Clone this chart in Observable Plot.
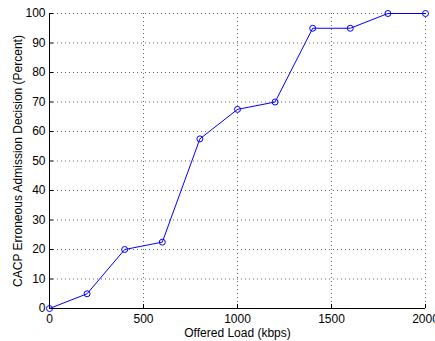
<!DOCTYPE html>
<html>
<head>
<meta charset="utf-8">
<script src="https://cdn.jsdelivr.net/npm/d3@7"></script>
<script src="https://cdn.jsdelivr.net/npm/@observablehq/plot@0.6"></script>
<style>
html,body{margin:0;padding:0;background:#fff;}
svg{display:block;}
</style>
</head>
<body>
<div id="chart"></div>
<script>
const offeredLoad = [0, 200, 400, 600, 800, 1000, 1200, 1400, 1600, 1800, 2000];
const erroneousPct = [0, 5, 20, 22.5, 57.5, 67.5, 70, 95, 95, 100, 100];
const xTicks = [0, 500, 1000, 1500, 2000];
const yTicks = [0, 10, 20, 30, 40, 50, 60, 70, 80, 90, 100];

const data = offeredLoad.map((x, i) => ({x, y: erroneousPct[i]}));
const font = "Liberation Sans, Arial, Helvetica, sans-serif";

const chart = Plot.plot({
  width: 435,
  height: 341,
  marginLeft: 49,
  marginRight: 10,
  marginTop: 13,
  marginBottom: 33,
  style: {fontFamily: font, fontSize: "12px", color: "#000", background: "#fff"},
  x: {domain: [0, 2000]},
  y: {domain: [0, 100]},
  marks: [
    Plot.gridX(xTicks.filter(d => d > 0), {stroke: "#666", strokeOpacity: 1, strokeDasharray: "1,3"}),
    Plot.gridY(yTicks.filter(d => d > 0), {stroke: "#666", strokeOpacity: 1, strokeDasharray: "1,3"}),
    Plot.axisX(xTicks, {tickSize: -4, tickPadding: 10, tickFormat: d => String(d), label: "Offered Load (kbps)", labelAnchor: "center", labelArrow: "none", labelOffset: 28, fontSize: 12}),
    Plot.axisY(yTicks, {tickSize: -4, tickPadding: 8, tickFormat: d => String(d), label: "CACP Erroneous Admission Decision (Percent)", labelAnchor: "center", labelArrow: "none", labelOffset: 36, fontSize: 12}),
    Plot.ruleX([0], {stroke: "#000"}),
    Plot.ruleY([0], {stroke: "#000"}),
    Plot.line(data, {x: "x", y: "y", stroke: "#0000ff", strokeWidth: 1}),
    Plot.dot(data, {x: "x", y: "y", stroke: "#0000ff", fill: "none", r: 3, strokeWidth: 1})
  ]
});
document.getElementById("chart").appendChild(chart);
</script>
</body>
</html>
